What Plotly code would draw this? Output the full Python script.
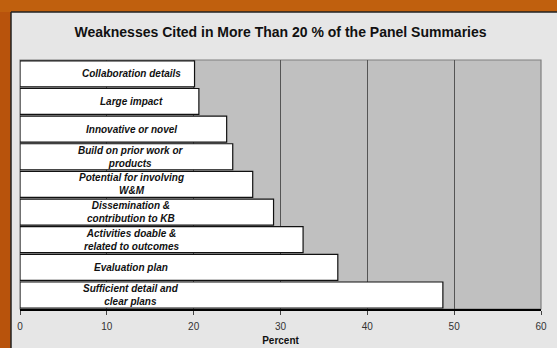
import plotly.graph_objects as go

categories = [
    "Collaboration details",
    "Large impact",
    "Innovative or novel",
    "Build on prior work or<br>products",
    "Potential for involving<br>W&M",
    "Dissemination &<br>contribution to KB",
    "Activities doable &<br>related to outcomes",
    "Evaluation plan",
    "Sufficient detail and<br>clear plans",
]
percent = [20.1, 20.6, 23.8, 24.5, 26.8, 29.2, 32.6, 36.6, 48.7]
x_ticks = [0, 10, 20, 30, 40, 50, 60]

W, H = 557, 348
L, R, T, B = 20, 16, 60, 39
pw, ph = W - L - R, H - T - B

def px_x(p):
    return (p - L) / pw

def px_y(p):
    return (H - B - p) / ph

fig = go.Figure()

fig.add_trace(go.Bar(
    y=categories, x=percent, orientation="h",
    marker=dict(color="white", line=dict(color="#111111", width=1.2)),
    hoverinfo="skip",
))

for c, v in zip(categories, percent):
    fig.add_annotation(
        x=12.8, y=c, xref="x", yref="y", text="<b><i>" + c + "</i></b>",
        showarrow=False,
        font=dict(family="Liberation Sans, Arial", size=10, color="#111111"),
        align="center",
    )

orange = "#b8530c"
shapes = [
    dict(type="rect", xref="paper", yref="paper", layer="below",
         x0=px_x(-20), x1=px_x(11), y0=px_y(H + 20), y1=px_y(-20),
         fillcolor=orange, line=dict(width=0)),
    dict(type="rect", xref="paper", yref="paper", layer="below",
         x0=px_x(-20), x1=px_x(W + 20), y0=px_y(12), y1=px_y(-20),
         fillcolor="#c0600e", line=dict(width=0)),
    dict(type="line", xref="paper", yref="paper", layer="below",
         x0=px_x(11), x1=px_x(W + 20), y0=px_y(12), y1=px_y(12),
         line=dict(color="#222222", width=1.5)),
    dict(type="line", xref="paper", yref="paper", layer="below",
         x0=px_x(11), x1=px_x(11), y0=px_y(12), y1=px_y(H + 20),
         line=dict(color="#222222", width=1.5)),
    dict(type="rect", xref="paper", yref="paper", layer="below",
         x0=0, x1=1, y0=0, y1=1,
         fillcolor="#c0c0c0", line=dict(color="#7f7f7f", width=1.2)),
]
fig.update_layout(shapes=shapes)

fig.update_layout(
    width=W, height=H,
    margin=dict(l=L, r=R, t=T, b=B, autoexpand=False),
    paper_bgcolor="#e6e6e6",
    plot_bgcolor="rgba(0,0,0,0)",
    bargap=0.06,
    showlegend=False,
    title=dict(
        text="<b>Weaknesses Cited in More Than 20 % of the Panel Summaries</b>",
        x=0.5, xref="paper", xanchor="center",
        y=1 - 32 / H, yanchor="middle",
        font=dict(family="Liberation Sans, Arial", size=14, color="#111111"),
    ),
    font=dict(family="Liberation Sans, Arial", color="#222222"),
)

fig.update_xaxes(
    range=[0, 60], tickvals=x_ticks, ticktext=[str(t) for t in x_ticks],
    showgrid=True, gridcolor="#555555", gridwidth=1,
    zeroline=False, automargin=False,
    showline=True, linecolor="#000000", linewidth=2,
    ticks="outside", ticklen=4, tickcolor="#444444",
    ticklabelstandoff=3,
    tickfont=dict(size=10, color="#333333"),
    title=dict(text="<b>Percent</b>", font=dict(size=10, color="#111111"), standoff=6),
    fixedrange=True,
)
fig.update_yaxes(
    autorange="reversed", showticklabels=False, showgrid=False,
    zeroline=False, showline=False, ticks="", fixedrange=True, automargin=False,
)

fig.write_html("out.html")
